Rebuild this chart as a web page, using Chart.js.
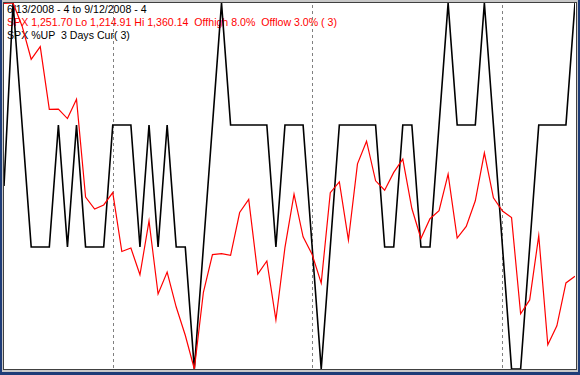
<!DOCTYPE html>
<html>
<head>
<meta charset="utf-8">
<script src="https://cdn.jsdelivr.net/npm/chart.js@4.4.1/dist/chart.umd.min.js"></script>
<style>
  body { margin: 0; width: 580px; height: 375px; background: #1e3c78; overflow: hidden; position: relative; }
  #frame { position: absolute; left: 2px; top: 0; width: 576px; height: 372px; background: #c8c8c8; }
  #plot { position: absolute; left: 3px; top: 2px; width: 572px; height: 366px; background: #fff; border: 1px solid #404040; }
  .lbl { position: absolute; left: 7px; font: 10.6px "Liberation Sans", Arial, sans-serif; white-space: pre; line-height: 12px; }
  #wrap { position: absolute; left: 4px; top: 3px; width: 571px; height: 366px; }
</style>
</head>
<body>
<div id="frame"></div>
<div id="plot"></div>
<div class="lbl" style="top:3px;color:#000">6/13/2008 - 4 to 9/12/2008 - 4</div>
<div class="lbl" style="top:16px;color:#ff0000">SPX 1,251.70 Lo 1,214.91 Hi 1,360.14  Offhigh 8.0%  Offlow 3.0% ( 3)</div>
<div class="lbl" style="top:29px;color:#000">SPX %UP  3 Days Cur( 3)</div>
<div id="wrap"><canvas id="myChart"></canvas></div>
<script>
// trading days 6/13/2008 .. 9/12/2008
const dates = [
  '6/13','6/16','6/17','6/18','6/19','6/20','6/23','6/24','6/25','6/26','6/27','6/30',
  '7/1','7/2','7/3','7/7','7/8','7/9','7/10','7/11','7/14','7/15','7/16','7/17','7/18','7/21','7/22','7/23','7/24','7/25','7/28','7/29','7/30','7/31',
  '8/1','8/4','8/5','8/6','8/7','8/8','8/11','8/12','8/13','8/14','8/15','8/18','8/19','8/20','8/21','8/22','8/25','8/26','8/27','8/28','8/29',
  '9/2','9/3','9/4','9/5','9/8','9/9','9/10','9/11','9/12'
];

// SPX close
const spx = [
  1360.03, 1360.14, 1350.93, 1337.81, 1342.83, 1317.93, 1318.00, 1314.29, 1321.97, 1283.15, 1278.38, 1280.00,
  1284.91, 1261.52, 1262.90, 1252.31, 1273.70, 1244.69, 1253.39, 1239.49, 1228.30, 1214.91, 1245.36, 1260.32,
  1260.68, 1260.00, 1277.00, 1282.19, 1252.54, 1257.76, 1234.37, 1263.20, 1284.26, 1267.38,
  1260.31, 1249.01, 1284.88, 1289.19, 1266.07, 1296.32, 1305.32, 1289.59, 1285.83, 1292.93, 1298.20, 1278.60,
  1266.69, 1274.54, 1277.72, 1292.20, 1266.84, 1271.51, 1281.66, 1300.68, 1282.83,
  1277.58, 1274.98, 1236.83, 1242.31, 1267.79, 1224.51, 1232.04, 1249.05, 1251.70
];

// up days in the last 3
const pctUp = [
  1.5, 3, 2, 1, 1, 1, 2, 1, 2, 1, 1, 1,
  2, 2, 2, 1, 2, 1, 2, 1, 1, 0, 1, 2, 3, 2, 2, 2, 2, 2, 1, 2, 2, 2,
  1, 0, 1, 2, 2, 2, 2, 2, 1, 1, 2, 2, 1, 1, 2, 3, 2, 2, 2, 3, 2,
  1, 0, 0, 1, 2, 2, 2, 2, 3
];

const spxLo = 1214.91;
const spxHi = 1360.14;
const upMax = 3;

// first trading day of each month
const monthStarts = ['7/1', '8/1', '9/2'];

// dashed month separators
const monthLines = {
    id: 'monthLines',
    beforeDatasetsDraw(chart) {
        const c = chart.ctx;
        const area = chart.chartArea;
        c.save();
        c.strokeStyle = '#808080';
        c.lineWidth = 1;
        c.setLineDash([3, 3]);
        monthStarts.forEach(d => {
            const x = Math.round(chart.scales.x.getPixelForValue(dates.indexOf(d))) + 0.5;
            c.beginPath();
            c.moveTo(x, area.top + 2);
            c.lineTo(x, area.bottom);
            c.stroke();
        });
        c.restore();
    }
};

const ctx = document.getElementById('myChart').getContext('2d');

const myChart = new Chart(ctx, {
    type: 'line',
    data: {
        labels: dates,
        datasets: [{
            label: 'SPX',
            data: spx,
            yAxisID: 'yPrice',
            borderColor: '#ff0000',
            borderWidth: 1.2,
            pointRadius: 0,
            tension: 0,
            order: 0
        }, {
            label: 'SPX %UP 3 Days',
            data: pctUp,
            yAxisID: 'yUp',
            borderColor: '#000000',
            borderWidth: 1.6,
            pointRadius: 0,
            tension: 0,
            order: 1
        }]
    },
    options: {
        responsive: true,
        maintainAspectRatio: false,
        animation: false,
        layout: { padding: 0 },
        plugins: {
            legend: { display: false },
            tooltip: { enabled: false }
        },
        scales: {
            x: { display: false, offset: false },
            yPrice: { display: false, min: spxLo, max: spxHi },
            yUp: { display: false, min: 0, max: upMax }
        }
    },
    plugins: [monthLines]
});
</script>
</body>
</html>
